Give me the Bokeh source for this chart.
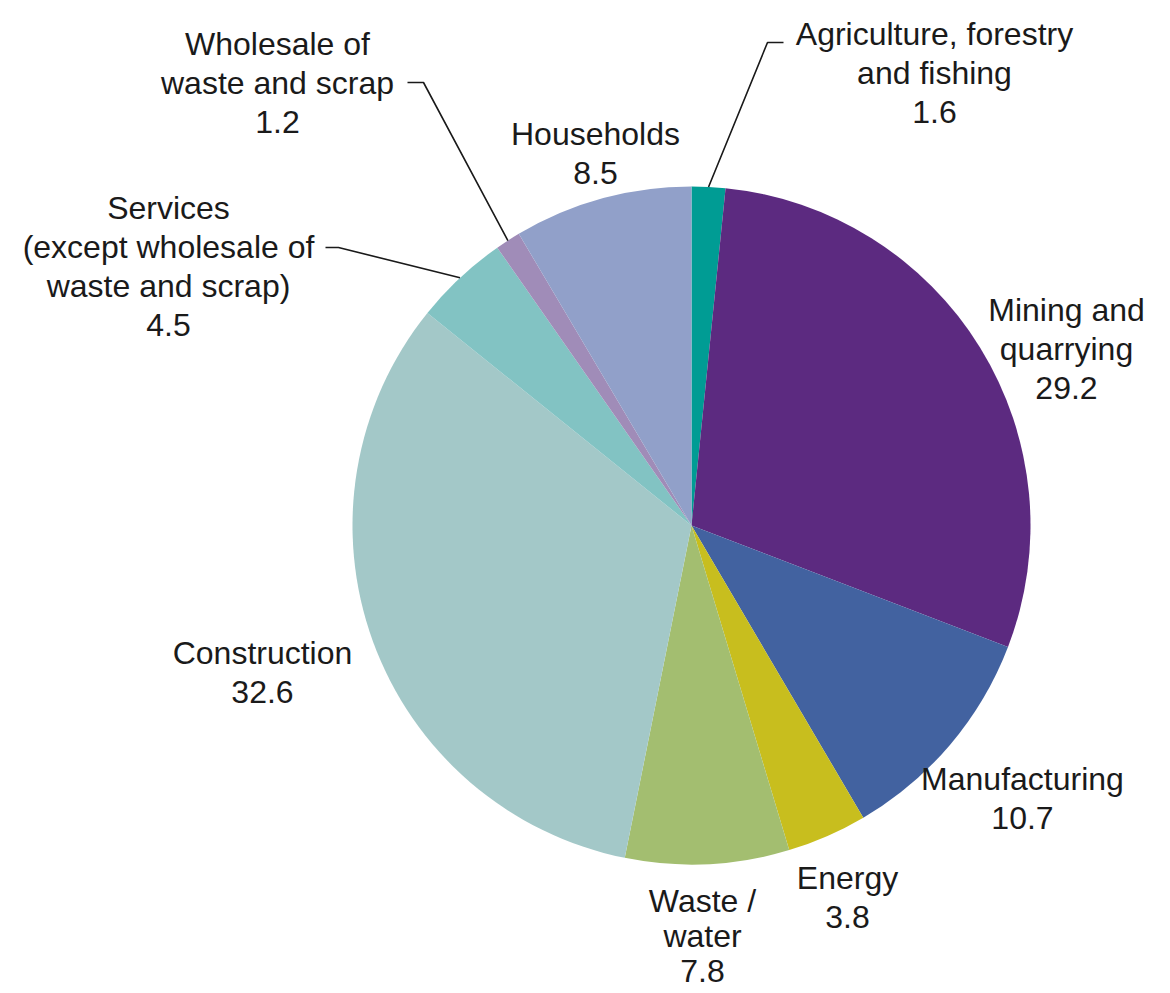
import math
from bokeh.plotting import figure
from bokeh.models import Range1d, ColumnDataSource
from bokeh.core.properties import value
from bokeh.embed import file_html
from bokeh.resources import INLINE

# ---- data ----
categories = [
    "Agriculture, forestry\nand fishing",
    "Mining and\nquarrying",
    "Manufacturing",
    "Energy",
    "Waste /\nwater",
    "Construction",
    "Services\n(except wholesale of\nwaste and scrap)",
    "Wholesale of\nwaste and scrap",
    "Households",
]
values = [1.6, 29.2, 10.7, 3.8, 7.8, 32.6, 4.5, 1.2, 8.5]
colors = ["#009C94", "#5C2A80", "#4262A0", "#C8BE1E", "#A3BE70",
          "#A3C8C8", "#82C3C3", "#A08CB8", "#91A0C9"]

# ---- layout (pixel coordinates, y measured from top) ----
W, H = 1170, 993
CX, CY, R = 691, 525, 339
FS = 32
LH = 39
# label block: centre x, first-line baseline y (from top)
label_pos = [(934, 33), (1066, 309), (1022, 778), (847, 877), (702, 900),
             (262, 652), (168, 207), (277, 43), (595, 133)]
# per-label line spacing
label_lh = [LH, LH, LH, LH, 35, LH, LH, LH, LH]
# leader lines: (label-end x, y, elbow x) or None
leaders = [(783, 42, 767), None, None, None, None, None,
           (325, 247, 338), (407, 82, 423), None]

p = figure(width=W, height=H, x_range=Range1d(0, W), y_range=Range1d(0, H),
           output_backend="svg", toolbar_location=None, min_border=0)
p.axis.visible = False
p.grid.visible = False
p.outline_line_color = None
p.background_fill_color = "white"
p.border_fill_color = "white"

total = sum(values)
starts, ends, mids = [], [], []
cum = 0.0
for v in values:
    a0 = math.pi / 2 - 2 * math.pi * (cum + v) / total
    a1 = math.pi / 2 - 2 * math.pi * cum / total
    starts.append(a0)
    ends.append(a1)
    mids.append(math.pi / 2 - 2 * math.pi * (cum + v / 2) / total)
    cum += v

src = ColumnDataSource(dict(x=[CX] * len(values), y=[H - CY] * len(values),
                            start=starts, end=ends, color=colors))
p.wedge(x="x", y="y", radius=R, start_angle="start", end_angle="end",
        direction="anticlock", fill_color="color", line_color=None, source=src)

# leader lines
for i, ld in enumerate(leaders):
    if ld is None:
        continue
    lx, ly, ex = ld
    px = CX + R * math.cos(mids[i])
    py = (H - CY) + R * math.sin(mids[i])
    p.line([lx, ex, px], [H - ly, H - ly, py], line_color="#1a1a1a", line_width=1.6)

# labels
tx, ty, tt = [], [], []
for i, name in enumerate(categories):
    lines = name.split("\n") + [f"{values[i]:.1f}"]
    cx, by = label_pos[i]
    for k, ln in enumerate(lines):
        tx.append(cx)
        ty.append(H - (by + k * label_lh[i]))
        tt.append(ln)
p.text(x=tx, y=ty, text=tt, text_align="center", text_baseline="alphabetic",
       text_font=value("Liberation Sans"), text_font_size=f"{FS}px",
       text_color="#1a1a1a")

open("out.html", "w").write(file_html(p, INLINE))
